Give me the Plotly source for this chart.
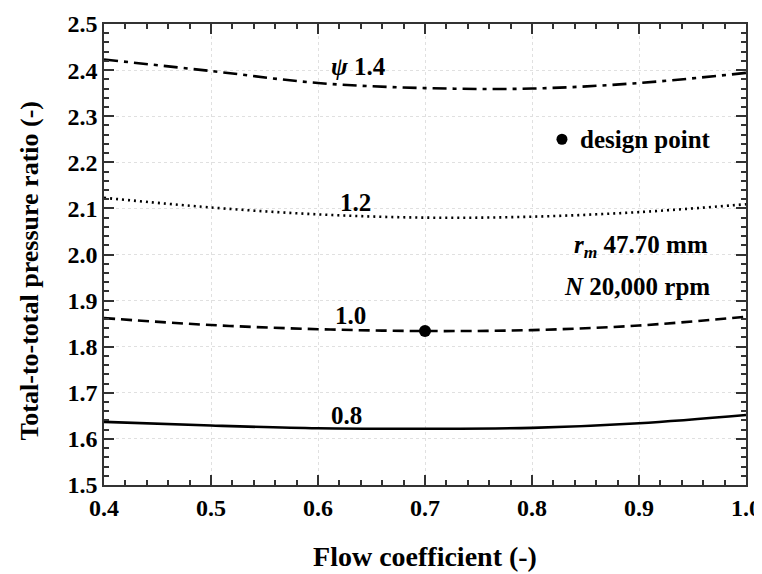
import plotly.graph_objects as go

flow = [0.4, 0.5, 0.6, 0.7, 0.8, 0.9, 1.0]
pr_14 = [2.423, 2.398, 2.372, 2.361, 2.360, 2.372, 2.394]
pr_12 = [2.123, 2.102, 2.087, 2.080, 2.082, 2.092, 2.109]
pr_10 = [1.862, 1.847, 1.838, 1.834, 1.836, 1.846, 1.865]
pr_08 = [1.637, 1.629, 1.623, 1.622, 1.624, 1.634, 1.652]
design_x = [0.7]
design_y = [1.834]
psi_labels = ["<i>ψ</i> 1.4", "1.2", "1.0", "0.8"]
label_x = [0.638, 0.635, 0.630, 0.627]
label_y = [2.407, 2.112, 1.867, 1.650]
x_ticks = [0.4, 0.5, 0.6, 0.7, 0.8, 0.9, 1.0]
y_ticks = [1.5, 1.6, 1.7, 1.8, 1.9, 2.0, 2.1, 2.2, 2.3, 2.4, 2.5]

FONT = "Liberation Serif"
fig = go.Figure()
styles = [(pr_14, "14px,6px,4px,6px"), (pr_12, "2px,4px"), (pr_10, "11px,6px"), (pr_08, "solid")]
for ys, dash in styles:
    fig.add_trace(go.Scatter(x=flow, y=ys, mode="lines", line=dict(color="black", width=2.6, dash=dash, shape="spline"),
                             showlegend=False, hoverinfo="skip"))
fig.add_trace(go.Scatter(x=design_x, y=design_y, mode="markers", marker=dict(color="black", size=12), showlegend=False))
fig.add_trace(go.Scatter(x=[0.828], y=[2.25], mode="markers", marker=dict(color="black", size=11), showlegend=False))

for t, x, y in zip(psi_labels, label_x, label_y):
    fig.add_annotation(x=x, y=y, text=t, showarrow=False, font=dict(family=FONT, size=25, color="black", weight="bold"))

fig.add_annotation(x=0.843, y=2.25, text="design point", xanchor="left", showarrow=False,
                   font=dict(family=FONT, size=25, color="black", weight="bold"))
fig.add_annotation(x=0.966, y=2.017, text="<i>r</i><sub><i>m</i></sub> 47.70 mm", xanchor="right", showarrow=False,
                   font=dict(family=FONT, size=25, color="black", weight="bold"))
fig.add_annotation(x=0.968, y=1.930, text="<i>N</i> 20,000 rpm", xanchor="right", showarrow=False,
                   font=dict(family=FONT, size=25, color="black", weight="bold"))

# y-axis title as a rotated annotation
fig.add_annotation(xref="paper", yref="paper", x=-0.1153, y=0.465, xanchor="center", yanchor="middle",
                   text="Total-to-total pressure ratio (-)", textangle=-90, showarrow=False,
                   font=dict(family=FONT, size=26, color="black", weight="bold"))

axis_common = dict(showline=True, linecolor="#333", linewidth=1.5, mirror="ticks", ticks="inside", ticklen=10,
                   tickcolor="#333", tickwidth=1.5, showgrid=True, gridcolor="#e0e0e0", griddash="dot", gridwidth=1,
                   zeroline=False, automargin=False, tickmode="array", ticklabeloverflow="allow",
                   tickfont=dict(family=FONT, size=24, color="black", weight="bold"))

fig.update_xaxes(range=[0.4, 1.0], tickvals=x_ticks, ticktext=[f"{v:.1f}" for v in x_ticks],
                 minor=dict(dtick=0.02, tick0=0.4, ticks="inside", ticklen=5, tickcolor="#333", showgrid=False),
                 title=dict(text="Flow coefficient (-)", standoff=27, font=dict(family=FONT, size=28, color="black", weight="bold")),
                 **axis_common)
fig.update_yaxes(range=[1.5, 2.5], tickvals=y_ticks, ticktext=[f"{v:.1f}" for v in y_ticks],
                 minor=dict(dtick=0.02, tick0=1.5, ticks="inside", ticklen=5, tickcolor="#333", showgrid=False),
                 **axis_common)
fig.update_layout(width=754, height=566, margin=dict(l=96, r=16, t=16, b=89),
                  plot_bgcolor="white", paper_bgcolor="white", showlegend=False)
fig.write_html("out.html")
